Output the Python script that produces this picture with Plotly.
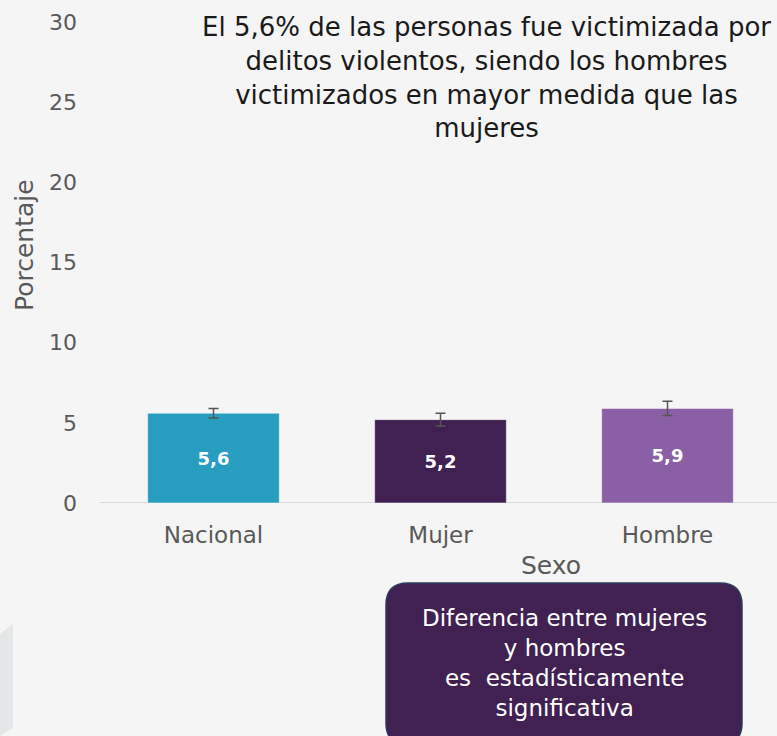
import plotly.graph_objects as go

categories = ["Nacional", "Mujer", "Hombre"]
values = [5.6, 5.2, 5.9]
errors = [0.3, 0.4, 0.45]
labels = ["5,6", "5,2", "5,9"]
colors = ["#279dbf", "#412151", "#8b5fa5"]
y_ticks = [0, 5, 10, 15, 20, 25, 30]

title_text = ("El 5,6% de las personas fue victimizada por<br>delitos violentos, siendo los hombres"
              "<br>victimizados en mayor medida que las<br>mujeres")
box_text = "Diferencia entre mujeres<br>y hombres<br>es  estadísticamente<br>significativa"

FONT = "DejaVu Sans"
BG = "#f5f5f5"
W, H = 777, 736
L, R, T, B = 100, 0, 22, 233
pw, ph = W - L - R, H - T - B

def px(x):
    return (x - L) / pw

def py(y):
    return (H - B - y) / ph

fig = go.Figure()
fig.add_trace(go.Bar(
    x=categories, y=values, width=0.58,
    marker=dict(color=colors, line=dict(color="rgba(255,255,255,0.5)", width=1)),
    text=labels, textposition="inside", insidetextanchor="middle",
    textfont=dict(family=FONT, size=18, color="white", weight="bold"),
    error_y=dict(type="data", array=errors, visible=True, color="#555555", thickness=1.5, width=5),
    cliponaxis=False, hoverinfo="skip",
))

shapes = []
shapes.append(dict(type="line", xref="paper", yref="y", x0=0, x1=1, y0=0, y1=0,
                   line=dict(color="#d9d9d9", width=2), layer="below"))
x0, x1, y0, y1 = px(386), px(742), py(745), py(583)
rx, ry = 22 / pw, 22 / ph
path = (f"M {x0+rx},{y1} L {x1-rx},{y1} Q {x1},{y1} {x1},{y1-ry} "
        f"L {x1},{y0+ry} Q {x1},{y0} {x1-rx},{y0} L {x0+rx},{y0} Q {x0},{y0} {x0},{y0+ry} "
        f"L {x0},{y1-ry} Q {x0},{y1} {x0+rx},{y1} Z")
shapes.append(dict(type="path", xref="paper", yref="paper", path=path,
                   fillcolor="#412151", line=dict(color="#2e3a5c", width=1.5)))
p = (f"M {px(0)},{py(634)} L {px(13)},{py(624)} L {px(13)},{py(728)} L {px(0)},{py(736)} Z")
shapes.append(dict(type="path", xref="paper", yref="paper", path=p,
                   fillcolor="#e3e7e8", line=dict(width=0), layer="below"))

annotations = [
    dict(text=title_text, xref="paper", yref="paper", x=px(486), y=py(10), xanchor="center",
         yanchor="top", showarrow=False, align="center",
         font=dict(family=FONT, size=26, color="#1a1a1a")),
    dict(text="Sexo", xref="paper", yref="paper", x=px(551), y=py(565), xanchor="center",
         yanchor="middle", showarrow=False, font=dict(family=FONT, size=25, color="#595959")),
    dict(text="Porcentaje", xref="paper", yref="paper", x=px(25), y=py(245), xanchor="center",
         yanchor="middle", showarrow=False, textangle=-90,
         font=dict(family=FONT, size=25, color="#595959")),
    dict(text=box_text, xref="paper", yref="paper", x=px(564), y=py(663), xanchor="center",
         yanchor="middle", showarrow=False, align="center",
         font=dict(family=FONT, size=23, color="white")),
]

fig.update_layout(
    width=W, height=H,
    margin=dict(l=L, r=R, t=T, b=B, pad=0),
    paper_bgcolor=BG, plot_bgcolor=BG,
    showlegend=False,
    shapes=shapes, annotations=annotations,
    xaxis=dict(range=[-0.5, -0.5 + pw / 227], showgrid=False, showline=False, zeroline=False,
               ticks="", tickfont=dict(family=FONT, size=23, color="#595959"), ticklabelstandoff=16),
    yaxis=dict(range=[0, 30], tickvals=y_ticks, showgrid=False, showline=False, zeroline=False,
               ticks="", tickfont=dict(family=FONT, size=22, color="#595959"), ticklabelstandoff=22),
)

fig.write_html("out.html", config={"displayModeBar": False},
               post_script="document.body.style.margin='0';document.body.style.background='%s';" % BG)
